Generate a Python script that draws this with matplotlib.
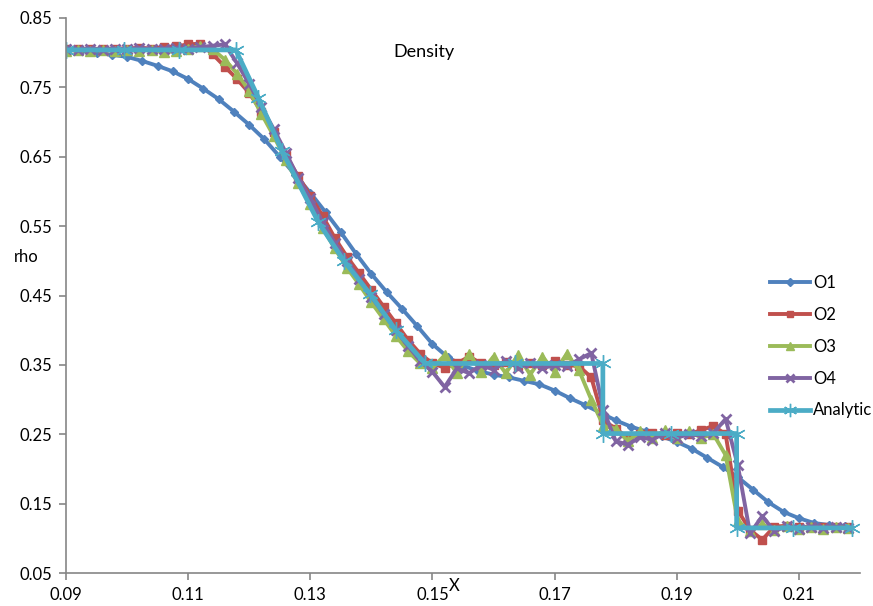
import matplotlib
matplotlib.use("Agg")
import matplotlib.pyplot as plt

# --- solution data (density along the tube) ---
x_o1 = [0.0900, 0.0925, 0.0950, 0.0975, 0.1000, 0.1025, 0.1050, 0.1075, 0.1100, 0.1125,
        0.1150, 0.1175, 0.1200, 0.1225, 0.1250, 0.1275, 0.1300, 0.1325, 0.1350, 0.1375,
        0.1400, 0.1425, 0.1450, 0.1475, 0.1500, 0.1525, 0.1550, 0.1575, 0.1600, 0.1625,
        0.1650, 0.1675, 0.1700, 0.1725, 0.1750, 0.1775, 0.1800, 0.1825, 0.1850, 0.1875,
        0.1900, 0.1925, 0.1950, 0.1975, 0.2000, 0.2025, 0.2050, 0.2075, 0.2100, 0.2125,
        0.2150, 0.2175]
rho_o1 = [0.804, 0.803, 0.800, 0.797, 0.794, 0.788, 0.781, 0.773, 0.762, 0.748,
          0.733, 0.715, 0.696, 0.675, 0.650, 0.624, 0.598, 0.570, 0.541, 0.510,
          0.481, 0.455, 0.431, 0.406, 0.380, 0.361, 0.349, 0.341, 0.336, 0.332,
          0.327, 0.322, 0.313, 0.302, 0.292, 0.281, 0.270, 0.261, 0.254, 0.247,
          0.239, 0.229, 0.216, 0.203, 0.188, 0.170, 0.152, 0.138, 0.129, 0.122,
          0.119, 0.118]

x_grid = [0.090, 0.092, 0.094, 0.096, 0.098, 0.100, 0.102, 0.104, 0.106, 0.108,
          0.110, 0.112, 0.114, 0.116, 0.118, 0.120, 0.122, 0.124, 0.126, 0.128,
          0.130, 0.132, 0.134, 0.136, 0.138, 0.140, 0.142, 0.144, 0.146, 0.148,
          0.150, 0.152, 0.154, 0.156, 0.158, 0.160, 0.162, 0.164, 0.166, 0.168,
          0.170, 0.172, 0.174, 0.176, 0.178, 0.180, 0.182, 0.184, 0.186, 0.188,
          0.190, 0.192, 0.194, 0.196, 0.198, 0.200, 0.202, 0.204, 0.206, 0.208,
          0.210, 0.212, 0.214, 0.216, 0.218]
rho_o2 = [0.805, 0.805, 0.806, 0.805, 0.806, 0.806, 0.807, 0.806, 0.808, 0.809,
          0.812, 0.813, 0.798, 0.780, 0.762, 0.742, 0.715, 0.685, 0.652, 0.622,
          0.594, 0.565, 0.533, 0.506, 0.482, 0.458, 0.434, 0.410, 0.386, 0.366,
          0.352, 0.346, 0.352, 0.362, 0.352, 0.350, 0.354, 0.349, 0.353, 0.350,
          0.355, 0.350, 0.348, 0.332, 0.270, 0.258, 0.245, 0.250, 0.252, 0.249,
          0.252, 0.250, 0.256, 0.262, 0.250, 0.140, 0.112, 0.098, 0.117, 0.118,
          0.116, 0.117, 0.116, 0.116, 0.116]
rho_o3 = [0.803, 0.804, 0.803, 0.804, 0.803, 0.804, 0.803, 0.804, 0.801, 0.802,
          0.805, 0.810, 0.805, 0.790, 0.770, 0.745, 0.712, 0.680, 0.645, 0.612,
          0.582, 0.548, 0.518, 0.490, 0.466, 0.440, 0.416, 0.392, 0.370, 0.352,
          0.345, 0.364, 0.338, 0.366, 0.340, 0.362, 0.338, 0.364, 0.336, 0.362,
          0.340, 0.366, 0.342, 0.300, 0.262, 0.258, 0.240, 0.254, 0.244, 0.256,
          0.244, 0.255, 0.245, 0.250, 0.220, 0.125, 0.110, 0.120, 0.112, 0.118,
          0.113, 0.117, 0.114, 0.116, 0.115]
rho_o4 = [0.806, 0.804, 0.806, 0.804, 0.806, 0.805, 0.807, 0.805, 0.806, 0.807,
          0.806, 0.808, 0.810, 0.812, 0.785, 0.755, 0.722, 0.690, 0.656, 0.620,
          0.590, 0.556, 0.526, 0.500, 0.474, 0.448, 0.424, 0.400, 0.377, 0.356,
          0.340, 0.318, 0.345, 0.338, 0.350, 0.343, 0.356, 0.346, 0.352, 0.345,
          0.350, 0.348, 0.358, 0.367, 0.285, 0.240, 0.235, 0.246, 0.242, 0.252,
          0.245, 0.250, 0.248, 0.252, 0.272, 0.205, 0.107, 0.132, 0.110, 0.118,
          0.113, 0.117, 0.115, 0.116, 0.115]

x_exact = [0.0900, 0.0995, 0.1085, 0.1178, 0.1215, 0.1254, 0.1313, 0.1355, 0.1398,
           0.1440, 0.1488, 0.1635, 0.1779, 0.1779, 0.1890, 0.1998, 0.1998, 0.2090, 0.2187]
rho_exact = [0.804, 0.804, 0.804, 0.804, 0.735, 0.658, 0.556, 0.500, 0.452,
             0.400, 0.352, 0.352, 0.352, 0.251, 0.251, 0.251, 0.115, 0.115, 0.115]

x_ticks = [0.09, 0.11, 0.13, 0.15, 0.17, 0.19, 0.21]
y_ticks = [0.05, 0.15, 0.25, 0.35, 0.45, 0.55, 0.65, 0.75, 0.85]

plt.rcParams["font.family"] = ["Lato", "DejaVu Sans"]
AXIS_GREY = "#868686"
FS = 12

fig = plt.figure(figsize=(8.73, 6.06), dpi=100)
ax = fig.add_axes([66 / 873, 1 - 573 / 606, (860 - 66) / 873, (573 - 18) / 606])

lw = 2.8
ax.plot(x_o1, rho_o1, color="#4F81BD", lw=lw, marker="D", ms=4.5, label="O1")
ax.plot(x_grid, rho_o2, color="#C0504D", lw=lw, marker="s", ms=6, label="O2")
ax.plot(x_grid, rho_o3, color="#9BBB59", lw=lw, marker="^", ms=6.5, label="O3")
ax.plot(x_grid, rho_o4, color="#8064A2", lw=lw, marker="x", ms=6.5, mew=2, label="O4")
ax.plot(x_exact, rho_exact, color="#4BACC6", lw=3.4, marker=(6, 2, 0), ms=12,
        mew=1.0, label="Analytic")

ax.set_xlim(0.09, 0.22)
ax.set_ylim(0.05, 0.85)
ax.set_xticks(x_ticks)
ax.set_yticks(y_ticks)
ax.set_xticklabels([f"{v:.2f}" for v in x_ticks])
ax.set_yticklabels([f"{v:.2f}" for v in y_ticks])

for side in ("top", "right"):
    ax.spines[side].set_visible(False)
for side in ("left", "bottom"):
    ax.spines[side].set_color(AXIS_GREY)
    ax.spines[side].set_linewidth(1.2)
ax.tick_params(direction="out", length=5, width=1.2, color=AXIS_GREY,
               labelsize=FS, labelcolor="black", pad=5)

fig.text(424 / 873, 1 - 52 / 606, "Density", ha="center", va="center", fontsize=13)
fig.text(14 / 873, 1 - 257 / 606, "rho", ha="left", va="center", fontsize=FS)
# axis title sits just right of the middle tick label
fig.text(449 / 873, 1 - 586 / 606, "X", ha="left", va="center", fontsize=FS)

ax.legend(loc="upper left", bbox_to_anchor=(770 / 873, 1 - 275 / 606),
          bbox_transform=fig.transFigure, frameon=False, fontsize=FS,
          numpoints=1, handlelength=2.4, handletextpad=0.2, labelspacing=0.95,
          borderpad=0, borderaxespad=0, markerscale=0.8)

fig.savefig("out.png", dpi=100)
